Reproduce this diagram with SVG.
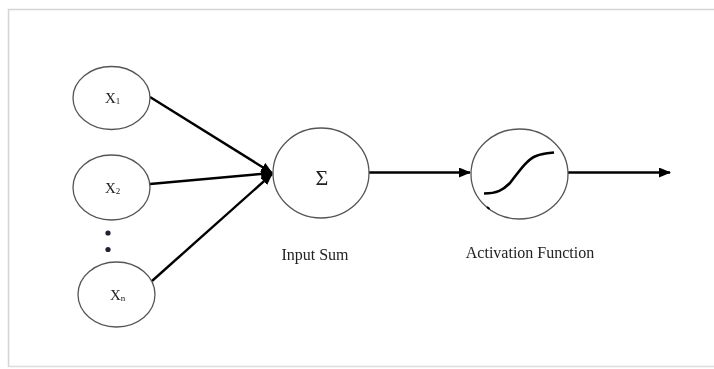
<svg xmlns="http://www.w3.org/2000/svg" width="714" height="369" viewBox="0 0 714 369">
  <defs>
    <marker id="arrow" viewBox="0 0 12 10" refX="11" refY="5" markerWidth="12" markerHeight="10" orient="auto" markerUnits="userSpaceOnUse">
      <path d="M0,0 L12,5 L0,10 z" fill="#000"/>
    </marker>
    <filter id="soft" x="-5%" y="-5%" width="110%" height="110%">
      <feGaussianBlur stdDeviation="0.5"/>
    </filter>
  </defs>
  <style>
    .node { fill: #fff; stroke: #555; stroke-width: 1.3; }
    .edge { fill: none; stroke: #000; stroke-width: 2.4; }
    .lbl { font-family: "Liberation Serif", "Times New Roman", serif; fill: #222; }
    .cap { font-size: 16px; text-anchor: middle; }
    .sub { font-size: 9px; }
  </style>
  <rect width="714" height="369" fill="#fff"/>
  <!-- page frame -->
  <path d="M8.5,367 L8.5,9.5 L714,9.5" fill="none" stroke="#d4d4d4" stroke-width="1.5"/>
  <line x1="9" y1="366.5" x2="714" y2="366.5" stroke="#dcdcdc" stroke-width="1.5"/>

  <g filter="url(#soft)">
    <g id="connectors">
      <line class="edge" x1="150" y1="97" x2="272" y2="173" marker-end="url(#arrow)"/>
      <line class="edge" x1="150" y1="184" x2="272" y2="173" marker-end="url(#arrow)"/>
      <line class="edge" x1="152" y1="281" x2="272" y2="174" marker-end="url(#arrow)"/>
      <line class="edge" x1="369" y1="172.5" x2="470" y2="172.5" stroke-width="2" marker-end="url(#arrow)"/>
      <line class="edge" x1="568" y1="172.5" x2="670" y2="172.5" stroke-width="2" marker-end="url(#arrow)"/>
    </g>

    <g id="x1">
      <ellipse class="node" cx="111.5" cy="98" rx="38.5" ry="31.5"/>
      <text class="lbl" x="105" y="103" font-size="15">X<tspan class="sub" dy="1">1</tspan></text>
    </g>
    <g id="x2">
      <ellipse class="node" cx="111.5" cy="187.5" rx="38.5" ry="32.5"/>
      <text class="lbl" x="105" y="193" font-size="15">X<tspan class="sub" dy="1">2</tspan></text>
    </g>
    <g id="dots">
      <circle cx="108" cy="233" r="2.6" fill="#1a2233"/>
      <circle cx="108" cy="249.5" r="2.6" fill="#1a2233"/>
    </g>
    <g id="xn">
      <ellipse class="node" cx="116.5" cy="294.5" rx="38.5" ry="32.5"/>
      <text class="lbl" x="110" y="300" font-size="15">X<tspan class="sub" dy="1">n</tspan></text>
    </g>

    <g id="sum">
      <ellipse class="node" cx="321" cy="173" rx="48" ry="45"/>
      <text class="lbl" x="322" y="185" font-size="22" text-anchor="middle">Σ</text>
      <text class="lbl cap" x="315" y="260">Input Sum</text>
    </g>

    <g id="activation">
      <ellipse class="node" cx="519.5" cy="174" rx="48.5" ry="45"/>
      <path d="M484,193.5 C497,193.5 503,190 510,183 C518,173 526,160 536,156 C543,153 548,153 554,152.5" fill="none" stroke="#000" stroke-width="2.6"/>
      <path d="M487,207 L489.5,209" stroke="#000" stroke-width="2"/>
      <text class="lbl cap" x="530" y="258">Activation Function</text>
    </g>
  </g>
</svg>
